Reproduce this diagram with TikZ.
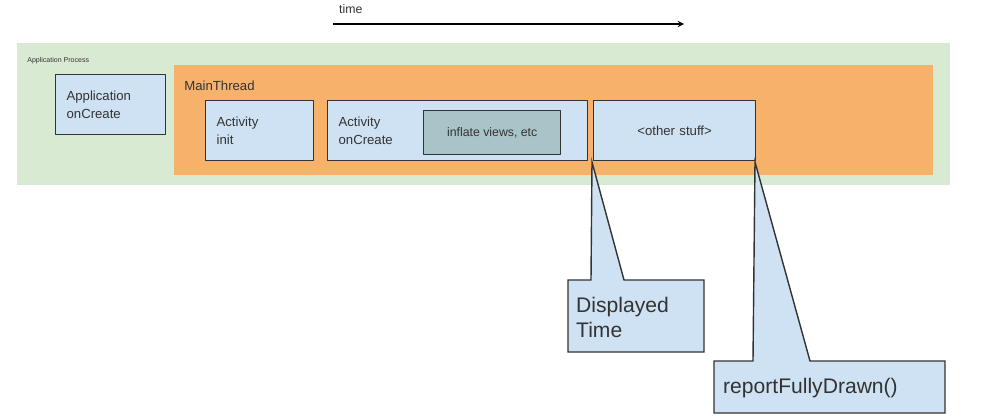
\documentclass[tikz,border=0pt]{standalone}
\usepackage{fontspec}
\setmainfont{Liberation Sans}
\definecolor{procgreen}{HTML}{D9EAD3}
\definecolor{threadorange}{HTML}{F6B26B}
\definecolor{steplblue}{HTML}{CFE2F3}
\definecolor{inflgray}{HTML}{A9C4C8}
\definecolor{edgegray}{HTML}{333333}
\tikzset{
  stepbox/.style={draw=edgegray, line width=0.7pt, fill=steplblue, anchor=north west, inner xsep=0.22cm, align=left, font=\fontsize{7.5}{10}\selectfont, text=edgegray},
  callout/.style={draw=edgegray, line width=0.8pt, fill=steplblue, line join=miter}
}
\begin{document}
\begin{tikzpicture}[x=0.02cm, y=-0.02cm, line join=round, >=stealth]
\useasboundingbox (0,0) rectangle (985,419);
% time axis
\coordinate (T0) at (333,24);
\coordinate (T1) at (684,24);
\node[anchor=west, font=\fontsize{7}{8}\selectfont, text=edgegray] (time) at (333,9) {time};
\draw[->, line width=0.6pt] (T0)--(T1);
% process and main thread
\node[fill=procgreen, anchor=north west, minimum width=18.66cm, minimum height=2.84cm, inner sep=0pt] (proc) at (17,43) {};
\node[anchor=west, font=\fontsize{4}{5}\selectfont, text=edgegray, inner sep=0pt] (proclbl) at (27,61) {Application Process};
\node[fill=threadorange, anchor=north west, minimum width=15.18cm, minimum height=2.2cm, inner sep=0pt] (main) at (174,65) {};
\node[anchor=west, font=\fontsize{7.5}{9}\selectfont, text=edgegray, inner sep=0pt] (mainlbl) at (184,86) {MainThread};
% steps
\node[stepbox, text width=1.76cm, minimum height=1.2cm] (appcreate) at (55,74) {Application\\onCreate};
\node[stepbox, text width=1.72cm, minimum height=1.2cm] (actinit) at (205,100) {Activity\\init};
\node[stepbox, text width=4.76cm, minimum height=1.2cm] (actcreate) at (327,100) {Activity\\onCreate};
\node[draw=edgegray, line width=0.8pt, fill=inflgray, anchor=north west, minimum width=2.74cm, minimum height=0.88cm, font=\fontsize{7}{9}\selectfont, text=edgegray] (inflate) at (423,110) {inflate views, etc};
\node[stepbox, align=center, text width=2.8cm, minimum height=1.2cm] (other) at (593,100) {<other stuff>};
% callouts
\coordinate (D1) at (568,280);\coordinate (D2) at (591,280);\coordinate (Dtip) at (592,162);
\coordinate (D3) at (624,280);\coordinate (D4) at (704,280);\coordinate (D5) at (704,352);\coordinate (D6) at (568,352);
\draw[callout] (D1)--(D2)--(Dtip)--(D3)--(D4)--(D5)--(D6)--cycle;
\node[anchor=north west, align=left, font=\fontsize{12}{14.5}\selectfont, text=edgegray] (disp) at (570,291) {Displayed\\Time};
\coordinate (R1) at (714,361);\coordinate (R2) at (753,361);\coordinate (Rtip) at (755,162);
\coordinate (R3) at (810,361);\coordinate (R4) at (945,361);\coordinate (R5) at (945,413);\coordinate (R6) at (714,413);
\draw[callout] (R1)--(R2)--(Rtip)--(R3)--(R4)--(R5)--(R6)--cycle;
\node[anchor=west, font=\fontsize{12}{14}\selectfont, text=edgegray] (report) at (717,388) {reportFullyDrawn()};
\end{tikzpicture}
\end{document}
